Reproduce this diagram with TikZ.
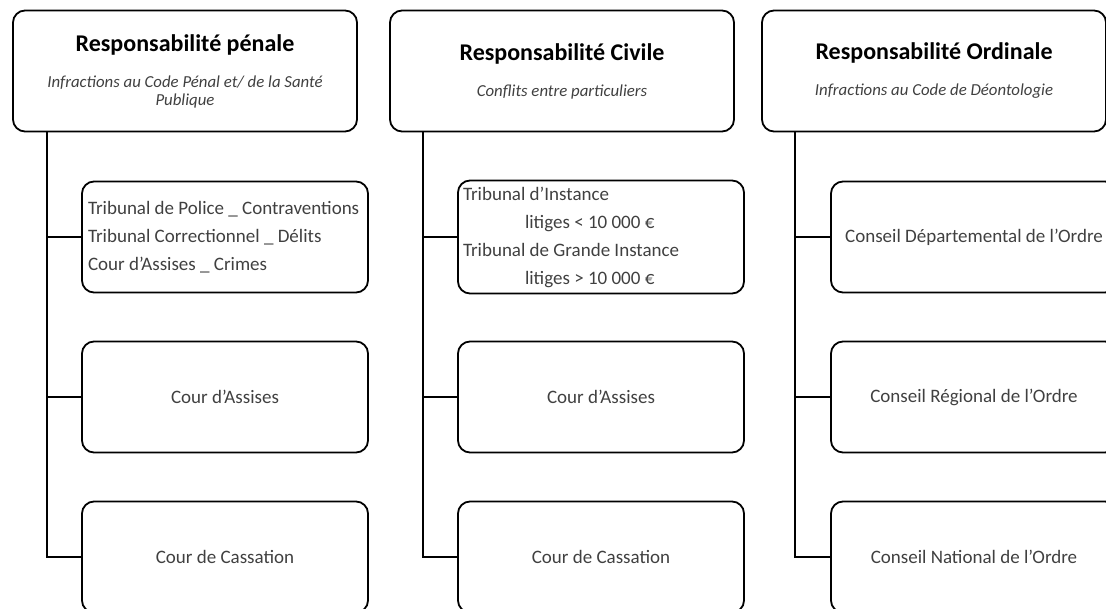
\documentclass[tikz,border=0pt]{standalone}
\usepackage{fontspec}
\setmainfont{Carlito}
\definecolor{texte}{HTML}{404040}

\tikzset{
  tete/.style={draw, line width=1.8pt, rounded corners=12pt, minimum width=344pt,
    minimum height=121pt, align=center, inner sep=2pt,
    font=\fontsize{16.8}{18}\selectfont},
  boite/.style={draw, line width=1.8pt, rounded corners=12pt, minimum width=286pt,
    minimum height=111pt, align=center, text=texte,
    font=\fontsize{19}{28}\selectfont},
  liste/.style={boite, align=flush left, text width=274pt, inner xsep=6pt},
  lien/.style={line width=1.8pt}
}
\newcommand{\titre}{\fontsize{24}{29}\selectfont\bfseries}
\newcommand{\soustitre}{\fontsize{16.8}{18}\selectfont\itshape\color{texte}}

\begin{document}
\begin{tikzpicture}[x=1pt,y=1pt]
\useasboundingbox (0,0) rectangle (1106,-609);
\clip (0,0) rectangle (1106,-609);

% En-tetes
\node[tete] (pen) at (185,-71) {\titre Responsabilité pénale\\[18pt]
  \soustitre Infractions au Code Pénal et/ de la Santé\\\soustitre Publique};
\node[tete] (civ) at (562,-71) {\titre Responsabilité Civile\\[18pt]
  \soustitre Conflits entre particuliers};
\node[tete] (ord) at (934,-71) {\titre Responsabilité Ordinale\\[18pt]
  \soustitre Infractions au Code de Déontologie};

% Juridictions penales
\node[liste] (pen1) at (225,-237) {Tribunal de Police \_ Contraventions\\
  Tribunal Correctionnel \_ Délits\\Cour d’Assises \_ Crimes};
\node[boite] (pen2) at (225,-397) {Cour d’Assises};
\node[boite] (pen3) at (225,-557) {Cour de Cassation};

% Juridictions civiles
\node[liste, text width=276pt, inner xsep=5pt, minimum height=113pt] (civ1) at (601,-237)
  {Tribunal d’Instance\\\hspace*{62pt}litiges < 10 000 €\\
   Tribunal de Grande Instance\\\hspace*{62pt}litiges > 10 000 €};
\node[boite] (civ2) at (601,-397) {Cour d’Assises};
\node[boite] (civ3) at (601,-557) {Cour de Cassation};

% Instances ordinales
\node[boite] (ord1) at (974,-237) {Conseil Départemental de l’Ordre};
\node[boite] (ord2) at (974,-397) {Conseil Régional de l’Ordre};
\node[boite] (ord3) at (974,-557) {Conseil National de l’Ordre};

% Liaisons
\coordinate (penT) at ([xshift=35pt]pen.south west);
\coordinate (civT) at ([xshift=34pt]civ.south west);
\coordinate (ordT) at ([xshift=34pt]ord.south west);
\foreach \c in {pen, civ, ord} {
  \draw[lien] (\c T) |- (\c3.west);
  \foreach \i in {1, 2}
    \draw[lien] (\c\i.west) -- (\c\i.west -| \c T);
}
\end{tikzpicture}
\end{document}
